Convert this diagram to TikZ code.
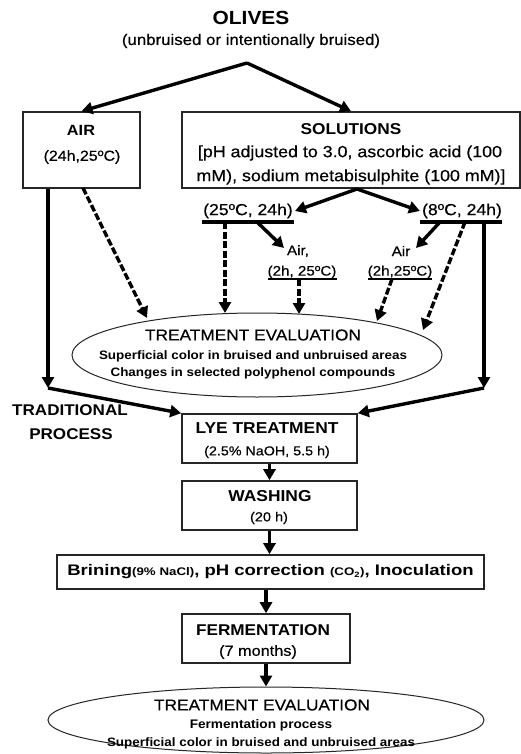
\documentclass[tikz,border=0pt]{standalone}
\usepackage{fontspec}
\setmainfont{Liberation Sans}[FakeStretch=1.1, UprightFeatures={FakeBold=0.4}]
\usetikzlibrary{arrows.meta,shapes.geometric}
\newcommand{\fsz}[1]{\fontsize{#1}{#1}\selectfont}
\begin{document}
\begin{tikzpicture}[x=1pt,y=-1pt,
  box/.style={draw=black!85, line width=1.6pt, inner sep=0pt, align=center},
  txt/.style={inner sep=0pt, align=center},
  arr/.style={line width=3.4pt, -{Triangle[length=11pt,width=12pt]}},
  darr/.style={arr, dash pattern=on 7pt off 2.5pt},
  ubar/.style={line width=3.4pt},
  ubarthin/.style={line width=2.3pt},
  evl/.style={ellipse, draw=black!85, line width=1pt, inner sep=0pt}]
\useasboundingbox[fill=white] (0,0) rectangle (521,754);

% title
\node[txt, font=\fsz{19}\bfseries] (olives) at (251,18) {OLIVES};
\node[txt, font=\fsz{15.3}] (olsub) at (251,41) {(unbruised or intentionally bruised)};
\coordinate (split) at (247,63);

% AIR and SOLUTIONS boxes
\node[box, minimum width=117pt, minimum height=76pt] (air) at (81.5,150) {};
\node[txt, font=\fsz{14.8}\bfseries] (airt) at (81,130) {AIR};
\node[txt, font=\fsz{14.5}] (airs) at (82,157) {(24h,25ºC)};
\node[box, minimum width=338pt, minimum height=76pt] (sol) at (351,150) {};
\node[txt, font=\fsz{15.7}\bfseries] (solt) at (351,129) {SOLUTIONS};
\node[txt, font=\fsz{16.2}] (sol1) at (350,153) {[pH adjusted to 3.0, ascorbic acid (100};
\node[txt, font=\fsz{16.2}] (sol2) at (351,177) {mM), sodium metabisulphite (100 mM)]};

\draw[arr] (split) -- (air.north);
\draw[arr] (split) -- (sol.north);

% temperature branches
\coordinate (ssplit) at (357,189);
\node[txt, inner sep=2pt, font=\fsz{16}] (t25) at (248,211) {(25ºC, 24h)};
\node[txt, inner sep=2pt, font=\fsz{16}] (t8) at (462,211) {(8ºC, 24h)};
\draw[arr] (ssplit) -- (t25.east);
\draw[arr] (ssplit) -- (t8.west);
\coordinate (b25a) at (202,222);
\coordinate (b25b) at (294,222);
\coordinate (b8a) at (420,222);
\coordinate (b8b) at (502,222);
\draw[ubar] (b25a) -- (b25b);
\draw[ubar] (b8a) -- (b8b);

\node[txt, font=\fsz{13.8}] (air1) at (298,251) {Air,};
\node[txt, font=\fsz{13.8}] (h1) at (302,272) {(2h, 25ºC)};
\node[txt, font=\fsz{13.8}] (air2) at (401,251) {Air};
\node[txt, font=\fsz{13.8}] (h2) at (400,272) {(2h,25ºC)};
\coordinate (h1a) at (268,279);
\coordinate (h1b) at (337,279);
\coordinate (h2a) at (368,279);
\coordinate (h2b) at (432,279);
\draw[ubarthin] (h1a) -- (h1b);
\draw[ubarthin] (h2a) -- (h2b);

% evaluation ellipse 1
\node[evl, minimum width=370pt, minimum height=84pt] (ev1) at (257,355) {};
\node[txt, font=\fsz{15.7}] (ev1t) at (253,335) {TREATMENT EVALUATION};
\node[txt, font=\fsz{12.2}\bfseries] (ev1a) at (253,356) {Superficial color in bruised and unbruised areas};
\node[txt, font=\fsz{12.2}\bfseries] (ev1b) at (253,373) {Changes in selected polyphenol compounds};

% start / end points of connectors
\coordinate (s25d) at (225,222);
\coordinate (e25d) at (225,313);
\coordinate (s25s) at (257,222);
\coordinate (e25s) at (284,248);
\coordinate (sh1) at (299,279);
\coordinate (eh1) at (299,314);
\coordinate (s8s) at (440,222);
\coordinate (e8s) at (416,248);
\coordinate (sh2) at (392,279);
\coordinate (eh2) at (377,321);
\coordinate (s8d) at (465,222);
\coordinate (e8d) at (423,330);
\coordinate (s8v) at (484,222);
\coordinate (rj) at (484,388);
\coordinate (lj) at (48,388);
\coordinate (sad) at (83,188);
\coordinate (ead) at (147,318);

\draw[darr] (s25d) -- (e25d);
\draw[arr] (s25s) -- (e25s);
\draw[darr] (sh1) -- (eh1);
\draw[arr] (s8s) -- (e8s);
\draw[darr] (sh2) -- (eh2);
\draw[darr] (s8d) -- (e8d);
\draw[arr] (s8v) -- (rj);
\draw[darr] (sad) -- (ead);
\draw[arr] (air.south -| lj) -- (lj);

% traditional process
\node[txt, font=\fsz{15.5}\bfseries] (trad) at (70,410) {TRADITIONAL};
\node[txt, font=\fsz{15.5}\bfseries] (proc) at (71,434) {PROCESS};

% lye treatment
\node[box, minimum width=175pt, minimum height=49pt] (lye) at (269.5,438.5) {};
\node[txt, font=\fsz{15.8}\bfseries] (lyet) at (267,428) {LYE TREATMENT};
\node[txt, font=\fsz{13}] (lyes) at (267,452) {(2.5\% NaOH, 5.5 h)};
\draw[arr] (lj) -- (lye.north west);
\draw[arr] (rj) -- (lye.north east);

% washing
\node[box, minimum width=175pt, minimum height=49pt] (wash) at (269.5,505.5) {};
\node[txt, font=\fsz{15.8}\bfseries] (washt) at (270,496) {WASHING};
\node[txt, font=\fsz{13.2}] (washs) at (269,518) {(20 h)};
\draw[arr] (lye.south) -- (wash.north);

% brining
\node[box, minimum width=427pt, minimum height=34pt, font=\fsz{15.3}\bfseries] (brine) at (270.5,572)
  {\scalebox{1.1}[1]{Brining{\fsz{11}(9\% NaCl)}, pH correction {\fsz{11}(CO\textsubscript{2})}, Inoculation}};
\draw[arr] (wash.south) -- (wash.south |- brine.north);

% fermentation
\node[box, minimum width=168pt, minimum height=49pt] (ferm) at (266,638.5) {};
\node[txt, font=\fsz{15.6}\bfseries] (fermt) at (263,630) {FERMENTATION};
\node[txt, font=\fsz{14.8}] (ferms) at (258,652) {(7 months)};
\draw[arr] (brine.south -| ferm.north) -- (ferm.north);

% evaluation ellipse 2
\node[evl, minimum width=436pt, minimum height=66pt] (ev2) at (266,720) {};
\node[txt, font=\fsz{15.7}] (ev2t) at (262,705) {TREATMENT EVALUATION};
\node[txt, font=\fsz{12.4}\bfseries] (ev2a) at (261,725) {Fermentation process};
\node[txt, font=\fsz{12.2}\bfseries] (ev2b) at (261,743) {Superficial color in bruised and unbruised areas};
\draw[arr] (ferm.south) -- (ev2.north);
\end{tikzpicture}
\end{document}
